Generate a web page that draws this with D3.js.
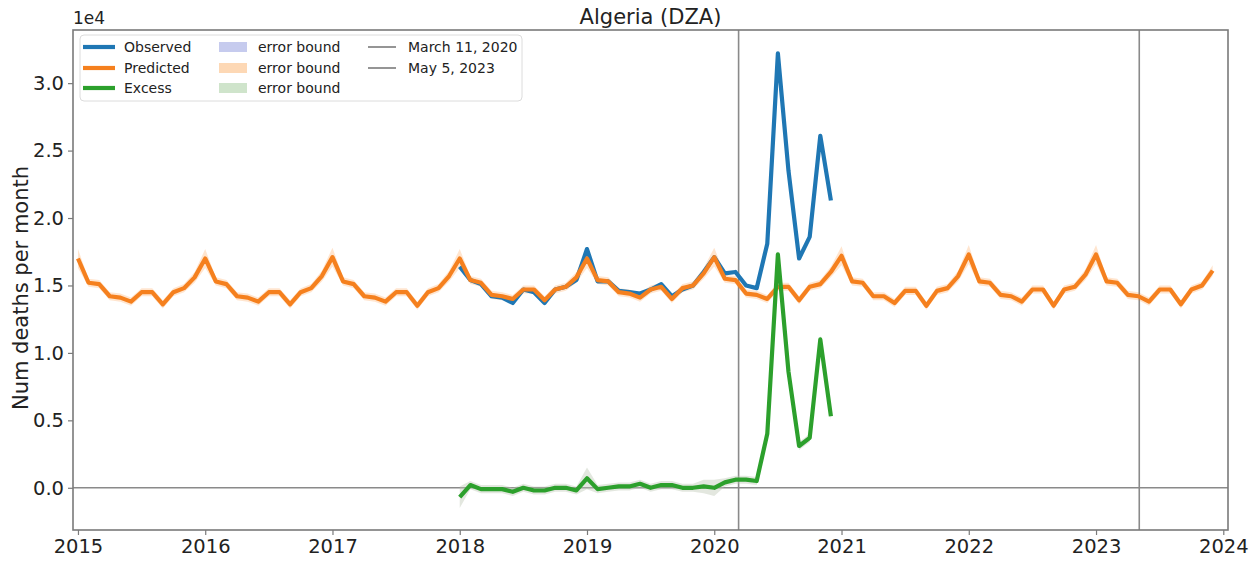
<!DOCTYPE html>
<html><head><meta charset="utf-8">
<script src="https://cdn.jsdelivr.net/npm/d3@7"></script>
<style>
body{margin:0;background:#fff;}
text{font-family:"DejaVu Sans",sans-serif;fill:#222;}
</style></head>
<body><svg id="c" width="1259" height="561"></svg>
<script>
// ---------- data (values in units of 1e4 deaths per month) ----------
const title = "Algeria (DZA)";
const startYear = 2015;            // first month: Jan 2015
const excessStart = 2018;          // observed/excess begin Jan 2018
const xTicks = [2015,2016,2017,2018,2019,2020,2021,2022,2023,2024];
const yTicks = [0.0,0.5,1.0,1.5,2.0,2.5,3.0];
const predicted = [
 1.70,1.52,1.51,1.42,1.41,1.38,1.45,1.45,1.36,1.45,1.48,1.56,
 1.70,1.53,1.51,1.42,1.41,1.38,1.45,1.45,1.36,1.45,1.48,1.57,
 1.71,1.53,1.51,1.42,1.41,1.38,1.45,1.45,1.35,1.45,1.48,1.57,
 1.70,1.54,1.52,1.43,1.42,1.40,1.47,1.47,1.39,1.47,1.49,1.56,
 1.70,1.54,1.53,1.45,1.44,1.41,1.47,1.49,1.40,1.48,1.50,1.59,
 1.71,1.55,1.54,1.44,1.43,1.40,1.49,1.49,1.39,1.49,1.51,1.60,
 1.72,1.53,1.52,1.42,1.42,1.37,1.46,1.46,1.35,1.46,1.48,1.57,
 1.73,1.53,1.52,1.43,1.42,1.38,1.47,1.47,1.35,1.47,1.49,1.58,
 1.73,1.53,1.52,1.43,1.42,1.38,1.47,1.47,1.36,1.47,1.50,1.61
];
const predErr = [
 0.07,0.03,0.03,0.03,0.03,0.03,0.03,0.03,0.03,0.03,0.03,0.04,
 0.07,0.03,0.03,0.03,0.03,0.03,0.03,0.03,0.03,0.03,0.03,0.04,
 0.07,0.03,0.03,0.03,0.03,0.03,0.03,0.03,0.03,0.03,0.03,0.04,
 0.07,0.03,0.03,0.03,0.03,0.03,0.03,0.03,0.03,0.03,0.03,0.04,
 0.07,0.03,0.03,0.03,0.03,0.03,0.03,0.03,0.03,0.03,0.03,0.04,
 0.07,0.03,0.03,0.03,0.03,0.03,0.03,0.03,0.03,0.03,0.03,0.04,
 0.07,0.03,0.03,0.03,0.03,0.03,0.03,0.03,0.03,0.03,0.03,0.04,
 0.07,0.03,0.03,0.03,0.03,0.03,0.03,0.03,0.03,0.03,0.03,0.04,
 0.07,0.03,0.03,0.03,0.03,0.03,0.03,0.03,0.03,0.03,0.03,0.04
];
const observed = [
 1.64,1.54,1.51,1.42,1.41,1.37,1.47,1.45,1.37,1.47,1.49,1.54,
 1.77,1.53,1.53,1.46,1.45,1.44,1.47,1.51,1.42,1.47,1.50,1.60,
 1.71,1.59,1.60,1.50,1.48,1.81,3.22,2.35,1.70,1.86,2.61,2.13
];
const excess = [
 -0.07,0.02,-0.01,-0.01,-0.01,-0.03,0.00,-0.02,-0.02,0.00,0.00,-0.02,
 0.07,-0.01,0.00,0.01,0.01,0.03,0.00,0.02,0.02,0.00,0.00,0.01,
 0.00,0.04,0.06,0.06,0.05,0.40,1.73,0.86,0.31,0.37,1.10,0.53
];
const excessErr = [
 0.08,0.03,0.03,0.03,0.03,0.03,0.03,0.03,0.03,0.03,0.03,0.03,
 0.08,0.03,0.03,0.03,0.03,0.03,0.03,0.03,0.03,0.03,0.03,0.05,
 0.06,0.03,0.03,0.03,0.03,0.03,0.03,0.03,0.03,0.03,0.03,0.03
];
const eventLines = [
 {label:"March 11, 2020", year:2020 + 70/366},
 {label:"May 5, 2023", year:2023 + 124/365}
];
const seriesNames = ["Observed","Predicted","Excess"];
const colors = {Observed:"#1f77b4", Predicted:"#f5801e", Excess:"#2ca02c"};
const bandColors = ["#c6cbee","#fdd8b5","#cfe4cb"];

// ---------- layout ----------
const L=73, R=1228, T=30, B=530;
const svg = d3.select("#c");
const x = d3.scaleLinear().domain([2014.961, 2024.037]).range([L,R]);
const y = d3.scaleLinear().domain([-0.313, 3.394]).range([B,T]);

const predData = predicted.map((v,i)=>({t:startYear+i/12, v, e:predErr[i]}));
const obsData = observed.map((v,i)=>({t:excessStart+i/12, v}));
const excData = excess.map((v,i)=>({t:excessStart+i/12, v, e:excessErr[i]}));

svg.append("defs").append("clipPath").attr("id","clip")
  .append("rect").attr("x",L).attr("y",T).attr("width",R-L).attr("height",B-T);
const g = svg.append("g").attr("clip-path","url(#clip)");

// zero line
g.append("line").attr("x1",L).attr("x2",R).attr("y1",y(0)).attr("y2",y(0))
  .attr("stroke","#8a8a8a").attr("stroke-width",1.6);
// event lines
eventLines.forEach(d=>{
  g.append("line").attr("x1",x(d.year)).attr("x2",x(d.year)).attr("y1",T).attr("y2",B)
   .attr("stroke","#8a8a8a").attr("stroke-width",1.6);
});

const area = d3.area().x(d=>x(d.t)).y0(d=>y(d.v-d.e)).y1(d=>y(d.v+d.e));
const line = d3.line().x(d=>x(d.t)).y(d=>y(d.v));

g.append("path").datum(predData).attr("d",area).attr("fill","#ff7f0e").attr("opacity",0.2);
g.append("path").datum(excData).attr("d",area).attr("fill","#b8c4b0").attr("opacity",0.4);

g.append("path").datum(obsData).attr("d",line).attr("fill","none")
  .attr("stroke",colors.Observed).attr("stroke-width",4.2).attr("stroke-linejoin","round");
g.append("path").datum(predData).attr("d",line).attr("fill","none")
  .attr("stroke",colors.Predicted).attr("stroke-width",4.2).attr("stroke-linejoin","round");
g.append("path").datum(excData).attr("d",line).attr("fill","none")
  .attr("stroke",colors.Excess).attr("stroke-width",4.2).attr("stroke-linejoin","round");

// frame
svg.append("rect").attr("x",L).attr("y",T).attr("width",R-L).attr("height",B-T)
  .attr("fill","none").attr("stroke","#7a7a7a").attr("stroke-width",1.6);

// axes
const xAxis = d3.axisBottom(x).tickValues(xTicks).tickFormat(d3.format("d")).tickSize(5).tickPadding(4);
const gx = svg.append("g").attr("transform",`translate(0,${B})`).call(xAxis);
gx.select(".domain").remove();
gx.selectAll("line").attr("stroke","#7a7a7a").attr("stroke-width",1.2);
gx.selectAll("text").style("font-size","19.5px").attr("fill","#222").style("font-family","DejaVu Sans");

const yAxis = d3.axisLeft(y).tickValues(yTicks).tickFormat(d3.format(".1f")).tickSize(5).tickPadding(4);
const gy = svg.append("g").attr("transform",`translate(${L},0)`).call(yAxis);
gy.select(".domain").remove();
gy.selectAll("line").attr("stroke","#7a7a7a").attr("stroke-width",1.2);
gy.selectAll("text").style("font-size","19.5px").attr("fill","#222").style("font-family","DejaVu Sans");

svg.append("text").attr("x",L).attr("y",24).style("font-size","17px").text("1e4");
svg.append("text").attr("x",(L+R)/2).attr("y",24).attr("text-anchor","middle")
  .style("font-size","21px").text(title);
svg.append("text").attr("transform",`translate(28,${(T+B)/2 + 8}) rotate(-90)`)
  .attr("text-anchor","middle").style("font-size","21px").text("Num deaths per month");

// legend
const lg = svg.append("g");
lg.append("rect").attr("x",80).attr("y",35).attr("width",442).attr("height",66).attr("rx",4)
  .attr("fill","#fff").attr("fill-opacity",0.8).attr("stroke","#dcdcdc");
const rows=[47,68,88];
seriesNames.forEach((n,i)=>{
  lg.append("line").attr("x1",83).attr("x2",115).attr("y1",rows[i]).attr("y2",rows[i])
    .attr("stroke",colors[n]).attr("stroke-width",4.2);
  lg.append("text").attr("x",124).attr("y",rows[i]+5).style("font-size","14px").text(n);
  lg.append("rect").attr("x",219).attr("y",rows[i]-5).attr("width",28).attr("height",10)
    .attr("fill",bandColors[i]);
  lg.append("text").attr("x",258).attr("y",rows[i]+5).style("font-size","14px").text("error bound");
});
eventLines.forEach((d,i)=>{
  lg.append("line").attr("x1",368).attr("x2",396).attr("y1",rows[i]).attr("y2",rows[i])
    .attr("stroke","#8a8a8a").attr("stroke-width",1.8);
  lg.append("text").attr("x",408).attr("y",rows[i]+5).style("font-size","14px").text(d.label);
});
</script></body></html>
